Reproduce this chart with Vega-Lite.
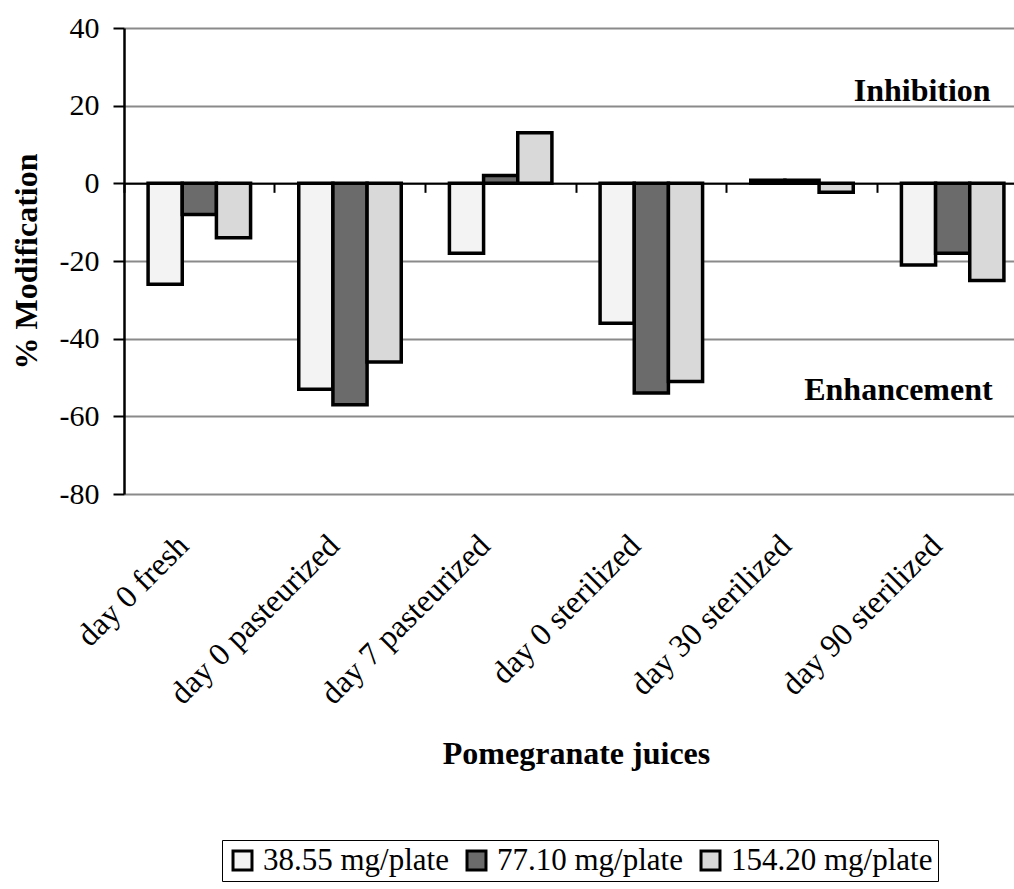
{
  "$schema": "https://vega.github.io/schema/vega-lite/v6.json",
  "width": 890,
  "height": 466,
  "autosize": {"type": "none"},
  "padding": {"left": 124, "top": 28, "right": 0, "bottom": 395},
  "background": "white",
  "config": {
    "font": "Liberation Serif",
    "view": {"stroke": null}
  },
  "data": {
    "values": [
      {"juice": "day 0 fresh", "dose": "38.55 mg/plate", "value": -26},
      {"juice": "day 0 fresh", "dose": "77.10 mg/plate", "value": -8},
      {"juice": "day 0 fresh", "dose": "154.20 mg/plate", "value": -14},
      {"juice": "day 0 pasteurized", "dose": "38.55 mg/plate", "value": -53},
      {"juice": "day 0 pasteurized", "dose": "77.10 mg/plate", "value": -57},
      {"juice": "day 0 pasteurized", "dose": "154.20 mg/plate", "value": -46},
      {"juice": "day 7 pasteurized", "dose": "38.55 mg/plate", "value": -18},
      {"juice": "day 7 pasteurized", "dose": "77.10 mg/plate", "value": 2},
      {"juice": "day 7 pasteurized", "dose": "154.20 mg/plate", "value": 13},
      {"juice": "day 0 sterilized", "dose": "38.55 mg/plate", "value": -36},
      {"juice": "day 0 sterilized", "dose": "77.10 mg/plate", "value": -54},
      {"juice": "day 0 sterilized", "dose": "154.20 mg/plate", "value": -51},
      {"juice": "day 30 sterilized", "dose": "38.55 mg/plate", "value": 0.8},
      {"juice": "day 30 sterilized", "dose": "77.10 mg/plate", "value": 0.8},
      {"juice": "day 30 sterilized", "dose": "154.20 mg/plate", "value": -2.3},
      {"juice": "day 90 sterilized", "dose": "38.55 mg/plate", "value": -21},
      {"juice": "day 90 sterilized", "dose": "77.10 mg/plate", "value": -18},
      {"juice": "day 90 sterilized", "dose": "154.20 mg/plate", "value": -25}
    ]
  },
  "layer": [
    {
      "mark": {"type": "bar", "stroke": "black", "strokeWidth": 3.5},
      "encoding": {
        "x": {
          "field": "juice",
          "type": "nominal",
          "sort": ["day 0 fresh", "day 0 pasteurized", "day 7 pasteurized", "day 0 sterilized", "day 30 sterilized", "day 90 sterilized"],
          "scale": {"range": [0, 904], "paddingInner": 0, "paddingOuter": 0},
          "axis": {
            "orient": "bottom",
            "domain": false,
            "ticks": false,
            "grid": false,
            "labelAngle": -45,
            "labelAlign": "right",
            "labelBaseline": "middle",
            "labelFont": "Liberation Serif",
            "labelFontSize": 32,
            "labelColor": "black",
            "labelPadding": 46,
            "labelOffset": -16,
            "labelLimit": 0,
            "title": "Pomegranate juices",
            "titleFont": "Liberation Serif",
            "titleFontSize": 32,
            "titleFontWeight": "bold",
            "titleColor": "black",
            "titlePadding": 44
          }
        },
        "xOffset": {
          "field": "dose",
          "sort": ["38.55 mg/plate", "77.10 mg/plate", "154.20 mg/plate"],
          "scale": {"paddingInner": 0, "paddingOuter": 0.705}
        },
        "y": {
          "field": "value",
          "type": "quantitative",
          "scale": {"domain": [-80, 40], "nice": false},
          "axis": {
            "title": "% Modification",
            "titleFont": "Liberation Serif",
            "titleFontSize": 32,
            "titleFontWeight": "bold",
            "titleColor": "black",
            "titlePadding": 16,
            "values": [-80, -60, -40, -20, 0, 20, 40],
            "labelExpr": "toString(datum.value)",
            "labelFont": "Liberation Serif",
            "labelFontSize": 30,
            "labelColor": "black",
            "labelPadding": 14,
            "tickSize": 11,
            "tickColor": "black",
            "tickWidth": 2,
            "domainColor": "black",
            "domainWidth": 2.5,
            "grid": true,
            "gridColor": "#8a8a8a",
            "gridWidth": 2
          }
        },
        "fill": {
          "field": "dose",
          "type": "nominal",
          "sort": ["38.55 mg/plate", "77.10 mg/plate", "154.20 mg/plate"],
          "scale": {"range": ["#f3f3f3", "#6b6b6b", "#d9d9d9"]},
          "legend": {
            "orient": "none",
            "legendX": 98,
            "legendY": 812,
            "direction": "horizontal",
            "title": null,
            "symbolType": "square",
            "symbolSize": 360,
            "symbolStrokeColor": "black",
            "symbolStrokeWidth": 3,
            "labelFont": "Liberation Serif",
            "labelFontSize": 31,
            "labelColor": "black",
            "labelLimit": 0,
            "labelOffset": 5,
            "columnPadding": 12,
            "strokeColor": "black",
            "padding": 5
          }
        }
      }
    },
    {
      "mark": {"type": "tick", "opacity": 0},
      "encoding": {
        "x": {
          "field": "juice",
          "type": "nominal",
          "sort": ["day 0 fresh", "day 0 pasteurized", "day 7 pasteurized", "day 0 sterilized", "day 30 sterilized", "day 90 sterilized"],
          "axis": {
            "orient": "top",
            "offset": -155.33,
            "labels": false,
            "title": null,
            "grid": false,
            "domain": true,
            "domainColor": "black",
            "domainWidth": 2,
            "ticks": true,
            "tickSize": -9,
            "tickColor": "black",
            "tickWidth": 2,
            "bandPosition": 0
          }
        },
        "y": {"field": "value", "type": "quantitative"}
      }
    },
    {
      "data": {"values": [{}]},
      "mark": {"type": "text", "text": "Inhibition", "font": "Liberation Serif", "fontSize": 32, "fontWeight": "bold", "align": "right", "baseline": "middle", "dx": 38, "color": "black"},
      "encoding": {
        "x": {"datum": "day 90 sterilized", "axis": null},
        "y": {"datum": 23.8}
      }
    },
    {
      "data": {"values": [{}]},
      "mark": {"type": "text", "text": "Enhancement", "font": "Liberation Serif", "fontSize": 32, "fontWeight": "bold", "align": "right", "baseline": "middle", "dx": 40, "color": "black"},
      "encoding": {
        "x": {"datum": "day 90 sterilized", "axis": null},
        "y": {"datum": -53.2}
      }
    }
  ],
  "resolve": {"axis": {"x": "independent"}}
}
